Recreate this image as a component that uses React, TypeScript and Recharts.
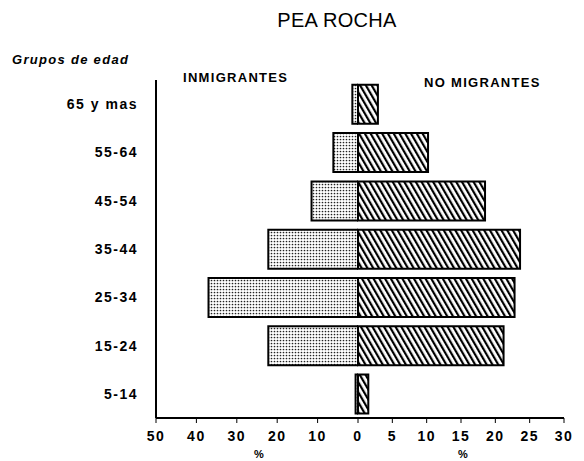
import { BarChart, Bar, XAxis, YAxis } from "recharts";

const groups = ["65 y mas", "55-64", "45-54", "35-44", "25-34", "15-24", "5-14"];
const inmigrantes = [1.4, 6.1, 11.5, 22.2, 37, 22.2, 0.6];
const noMigrantes = [2.9, 10.2, 18.5, 23.6, 22.8, 21.2, 1.5];
const leftTicks = [10, 20, 30, 40, 50];
const rightTicks = [0, 5, 10, 15, 20, 25, 30];

const data = groups.map((g, i) => ({ group: g, inm: inmigrantes[i], nom: noMigrantes[i] }));

const font = "'Liberation Sans', Arial, sans-serif";
const tickStyle = { fontSize: 14, fontWeight: 700, fill: "#000", fontFamily: font, letterSpacing: 1.5 };

const label = (extra: React.CSSProperties): React.CSSProperties => ({
  position: "absolute",
  fontFamily: font,
  fontWeight: 700,
  fontSize: 13,
  lineHeight: "14px",
  letterSpacing: 1.3,
  color: "#000",
  whiteSpace: "nowrap",
  ...extra,
});

export default function App() {
  return (
    <div style={{ position: "absolute", left: 0, top: 0, width: 584, height: 461, background: "#fff" }}>
      <div style={label({ left: 237, top: 10, width: 200, textAlign: "center", fontSize: 20, lineHeight: "20px", fontWeight: 400, letterSpacing: 0.3 })}>
        PEA ROCHA
      </div>
      <div style={label({ left: 12, top: 53, fontStyle: "italic" })}>Grupos de edad</div>
      <div style={label({ left: 183, top: 71 })}>INMIGRANTES</div>
      <div style={label({ left: 424, top: 76 })}>NO MIGRANTES</div>
      <div style={label({ left: 254, top: 447, fontSize: 11 })}>%</div>
      <div style={label({ left: 458, top: 447, fontSize: 11 })}>%</div>

      <div style={{ position: "absolute", left: 0, top: 0 }}>
        <BarChart width={358} height={461} data={data} layout="vertical" barCategoryGap="10%"
          margin={{ top: 80, right: 0, bottom: 13, left: 0 }}>
          <defs>
            <pattern id="dots" patternUnits="userSpaceOnUse" width="3" height="3">
              <rect width="3" height="3" fill="#fff" />
              <circle cx="1.5" cy="1.5" r="0.85" fill="#222" />
            </pattern>
          </defs>
          <XAxis type="number" domain={[0, 50]} reversed ticks={leftTicks} interval={0}
            axisLine={{ stroke: "#000", strokeWidth: 2 }} tickLine={{ stroke: "#000" }}
            tickSize={5} tickMargin={8} tick={tickStyle} />
          <YAxis type="category" dataKey="group" width={156} tickLine={false} tickMargin={12}
            axisLine={{ stroke: "#000", strokeWidth: 2 }} tick={tickStyle} interval={0} />
          <Bar dataKey="inm" fill="url(#dots)" stroke="#000" strokeWidth={2} isAnimationActive={false} />
        </BarChart>
      </div>

      <div style={{ position: "absolute", left: 350, top: 0 }}>
        <BarChart width={234} height={461} data={data} layout="vertical" barCategoryGap="10%"
          margin={{ top: 80, right: 20, bottom: 13, left: 8 }}>
          <defs>
            <pattern id="hatch" patternUnits="userSpaceOnUse" width="5" height="5" patternTransform="rotate(-30)">
              <rect width="5" height="5" fill="#fff" />
              <rect x="0" y="0" width="2.2" height="5" fill="#000" />
            </pattern>
          </defs>
          <XAxis type="number" domain={[0, 30]} ticks={rightTicks} interval={0}
            axisLine={{ stroke: "#000", strokeWidth: 2 }} tickLine={{ stroke: "#000" }}
            tickSize={5} tickMargin={8} tick={tickStyle} />
          <YAxis type="category" dataKey="group" width={0} axisLine={false} tick={false}
            tickLine={{ stroke: "#000" }} tickSize={6} interval={0} />
          <Bar dataKey="nom" fill="url(#hatch)" stroke="#000" strokeWidth={2} isAnimationActive={false} />
        </BarChart>
      </div>
    </div>
  );
}
